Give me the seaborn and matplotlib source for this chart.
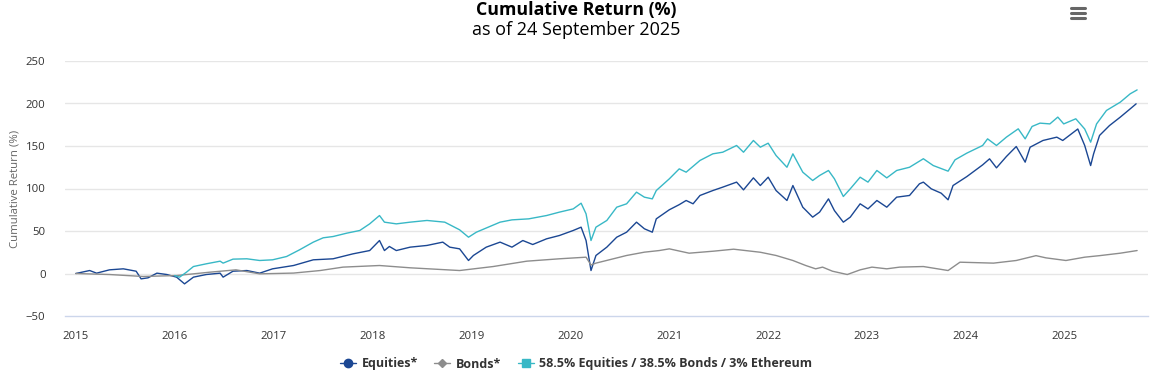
import pandas as pd
import seaborn as sns
import matplotlib
matplotlib.use("Agg")
import matplotlib.pyplot as plt
from matplotlib.lines import Line2D

# values (decimal year, cumulative return %)
EQ_T = [2015.0, 2015.14, 2015.21, 2015.34, 2015.48, 2015.61, 2015.66, 2015.73, 2015.82, 2015.92,
        2016.02, 2016.1, 2016.19, 2016.32, 2016.46, 2016.49, 2016.59, 2016.73, 2016.86, 2016.99,
        2017.2, 2017.4, 2017.6, 2017.8, 2017.97,
        2018.07, 2018.12, 2018.17, 2018.24, 2018.38, 2018.55, 2018.71, 2018.78, 2018.88, 2018.97,
        2019.02, 2019.15, 2019.29, 2019.41, 2019.52, 2019.62, 2019.76, 2019.89,
        2020.03, 2020.11, 2020.16, 2020.21, 2020.26, 2020.37, 2020.47, 2020.57, 2020.67, 2020.75, 2020.83, 2020.87,
        2021.0, 2021.1, 2021.17, 2021.24, 2021.31, 2021.44, 2021.54, 2021.68, 2021.75, 2021.85, 2021.92,
        2022.0, 2022.08, 2022.19, 2022.25, 2022.35, 2022.45, 2022.52, 2022.61, 2022.67, 2022.76, 2022.83, 2022.93,
        2023.01, 2023.1, 2023.2, 2023.3, 2023.43, 2023.53, 2023.57, 2023.65, 2023.75, 2023.82, 2023.87,
        2024.01, 2024.17, 2024.24, 2024.31, 2024.41, 2024.51, 2024.6, 2024.65, 2024.78, 2024.92, 2024.98,
        2025.13, 2025.2, 2025.26, 2025.29, 2025.35, 2025.45, 2025.56, 2025.66, 2025.72]
EQ_V = [0, 3.5, 0.4, 4.3, 5.5, 2.7, -6.3, -5.1, 0.4, -1.2,
        -4.3, -12.2, -4.3, -1.2, 0.4, -4.3, 2.7, 3.5, 0.4, 5.5,
        9.4, 16.1, 17.3, 23.1, 27,
        38.8, 27, 31.8, 27, 31, 33, 36.9, 31, 29, 15.3,
        21.2, 31, 36.9, 31, 38.8, 34.1, 40.8, 44.7,
        50.6, 54.5, 38.8, 3.5, 21.2, 31, 42.7, 48.6, 60.4, 52.6, 48.6, 64.3,
        75, 81, 85.9, 82, 91.8, 97.6, 101.6, 107.5, 98.4, 112.5, 103.5,
        113.3, 97.6, 85.9, 103.5, 78, 66.3, 72.2, 87.8, 74, 60.4, 66.3, 82,
        76, 85.9, 78, 89.8, 91.8, 105.5, 107.5, 99.6, 94.5, 86.7, 103.5,
        114, 127.8, 134.9, 124.3, 137.6, 149.4, 131, 148.6, 156.5, 160.4, 156.5,
        170, 150.6, 127, 140.8, 162.4, 174, 184, 193.7, 199.6]

BOND_T = [2015.0, 2015.34, 2015.68, 2016.02, 2016.36, 2016.62, 2016.86, 2017.2, 2017.47, 2017.7,
          2018.07, 2018.38, 2018.88, 2019.22, 2019.56, 2019.89, 2020.16, 2020.21, 2020.26, 2020.57,
          2020.75, 2020.9, 2021.0, 2021.2, 2021.45, 2021.65, 2021.92, 2022.08, 2022.25, 2022.38,
          2022.48, 2022.55, 2022.65, 2022.8, 2022.93, 2023.05, 2023.2, 2023.33, 2023.57, 2023.82,
          2023.94, 2024.28, 2024.51, 2024.71, 2024.81, 2025.01, 2025.2, 2025.35, 2025.56, 2025.73]
BOND_V = [0, -1.2, -3.5, -2.4, 1.6, 4.3, -0.4, 0.5, 3.5, 7.5,
          9.4, 6.7, 3.5, 8.2, 14.5, 17.3, 19.2, 10, 12.2, 21.2,
          25.1, 27, 29, 23.9, 26.3, 28.6, 25, 21.2, 15.3, 9.4,
          5.5, 7.5, 2.7, -1.2, 4.3, 7.5, 5.5, 7.5, 8.2, 3.5,
          13.3, 12.2, 15.3, 21, 18.4, 15.3, 19.2, 21, 23.9, 27]

MIX_T = [2016.0, 2016.05, 2016.12, 2016.19, 2016.32, 2016.46, 2016.49, 2016.59, 2016.73, 2016.86, 2016.99,
         2017.13, 2017.26, 2017.4, 2017.5, 2017.6, 2017.74, 2017.87, 2017.97,
         2018.07, 2018.12, 2018.24, 2018.38, 2018.55, 2018.73, 2018.88, 2018.97,
         2019.05, 2019.29, 2019.41, 2019.58, 2019.76, 2019.89,
         2020.03, 2020.11, 2020.16, 2020.21, 2020.26, 2020.37, 2020.47, 2020.57, 2020.67, 2020.75, 2020.83, 2020.87,
         2021.0, 2021.1, 2021.17, 2021.31, 2021.44, 2021.54, 2021.68, 2021.75, 2021.85, 2021.92,
         2022.0, 2022.08, 2022.19, 2022.25, 2022.35, 2022.45, 2022.52, 2022.61, 2022.67, 2022.76, 2022.83, 2022.93,
         2023.01, 2023.1, 2023.2, 2023.3, 2023.43, 2023.57, 2023.67, 2023.82, 2023.89,
         2024.01, 2024.17, 2024.22, 2024.31, 2024.41, 2024.53, 2024.6, 2024.67, 2024.75, 2024.85, 2024.93, 2024.99,
         2025.11, 2025.2, 2025.26, 2025.32, 2025.42, 2025.56, 2025.66, 2025.73]
MIX_V = [-2.4, -4.3, 1.6, 8.2, 11.4, 14.5, 12.2, 16.9, 17.3, 15.3, 16.1,
         20, 27.8, 36.9, 42, 43.5, 47.5, 50.6, 58.4,
         68.2, 60.4, 58.4, 60.4, 62.4, 60.4, 51.4, 42.7,
         48.6, 60.4, 63.1, 64.3, 68.2, 72.2,
         76, 82.7, 70.2, 38.8, 54.5, 62.4, 78, 82, 95.7, 89.8, 87.8, 97.6,
         111.4, 123.1, 119.2, 133, 140.8, 142.7, 150.6, 142.7, 156.5, 148.6,
         153.3, 138.8, 125, 140.8, 119.2, 109.4, 115.3, 121.2, 111.4, 90.6, 99.6, 113.3,
         107.5, 121.2, 112.5, 121.2, 125, 135, 127, 120.4, 133.7,
         141.6, 150.6, 158.4, 150.6, 160.4, 170.2, 158.4, 173, 176.9, 176, 184, 176,
         182, 170, 154.5, 176, 191.8, 201.6, 211.4, 216]

SERIES = ["Equities*", "Bonds*", "58.5% Equities / 38.5% Bonds / 3% Ethereum"]
COLORS = {SERIES[0]: "#1b4793", SERIES[1]: "#8d8d8d", SERIES[2]: "#38b8c6"}
MARKERS = {SERIES[0]: "o", SERIES[1]: "D", SERIES[2]: "s"}
YEARS = list(range(2015, 2026))
Y_TICKS = [-50, 0, 50, 100, 150, 200, 250]


def to_dates(years):
    years = pd.Series(years, dtype=float)
    whole = years.astype(int)
    start = pd.to_datetime(whole.astype(str) + "-01-01")
    return start + pd.to_timedelta((years - whole) * 365.25, unit="D")


frames = []
for name, t, v in [(SERIES[0], EQ_T, EQ_V), (SERIES[1], BOND_T, BOND_V), (SERIES[2], MIX_T, MIX_V)]:
    frames.append(pd.DataFrame({"date": to_dates(t), "ret": v, "series": name}))
df = pd.concat(frames, ignore_index=True)

sns.set_theme(style="white")
plt.rcParams["font.family"] = ["Open Sans", "DejaVu Sans"]

fig = plt.figure(figsize=(11.66, 3.82), dpi=100)
ax = fig.add_axes([65 / 1166, 1 - 316 / 382, (1148 - 65) / 1166, (316 - 61) / 382])

sns.lineplot(data=df, x="date", y="ret", hue="series", hue_order=SERIES,
             palette=COLORS, linewidth=1.0, legend=False, ax=ax, zorder=3)

ax.set_ylim(-50, 250)
ax.set_yticks(Y_TICKS)
ax.set_xlim(to_dates([2014.89])[0], to_dates([2025.84])[0])
ax.set_xticks(to_dates(YEARS))
ax.set_xticklabels([str(y) for y in YEARS])

for y in Y_TICKS[1:]:
    ax.axhline(y, color="#e6e6e6", linewidth=1.0, zorder=1)
for side in ["top", "right", "left"]:
    ax.spines[side].set_visible(False)
ax.spines["bottom"].set_color("#ccd6eb")
ax.spines["bottom"].set_linewidth(1.0)
ax.tick_params(axis="x", colors="#ccd6eb", length=9, width=1, direction="out",
               labelcolor="#333333", labelsize=8.2, pad=2)
ax.tick_params(axis="y", length=0, labelcolor="#333333", labelsize=8.2, pad=14)
ax.set_xlabel("")
ax.set_ylabel("Cumulative Return (%)", color="#666666", fontsize=8.2, labelpad=4)

fig.text(576 / 1166, 1 - 10 / 382, "Cumulative Return (%)", ha="center", va="center",
         fontsize=12.8, fontweight="bold", color="#000000")
fig.text(576 / 1166, 1 - 30 / 382, "as of 24 September 2025", ha="center", va="center",
         fontsize=13, color="#000000")

# export menu icon
for yy in [8, 13, 18]:
    fig.add_artist(Line2D([1071 / 1166, 1085 / 1166], [1 - yy / 382] * 2,
                          color="#666666", linewidth=2.2, solid_capstyle="round"))

handles = [Line2D([0], [0], color=COLORS[s], marker=MARKERS[s], markersize=6 if s != SERIES[1] else 4.5,
                  linewidth=1.0) for s in SERIES]
leg = fig.legend(handles, SERIES, loc="center", bbox_to_anchor=(576 / 1166, 1 - 364 / 382),
                 ncol=3, frameon=False, handlelength=1.3, handletextpad=0.45, columnspacing=1.3,
                 prop={"weight": "bold", "size": 9})
for txt in leg.get_texts():
    txt.set_color("#333333")

fig.savefig("out.png", dpi=100)
